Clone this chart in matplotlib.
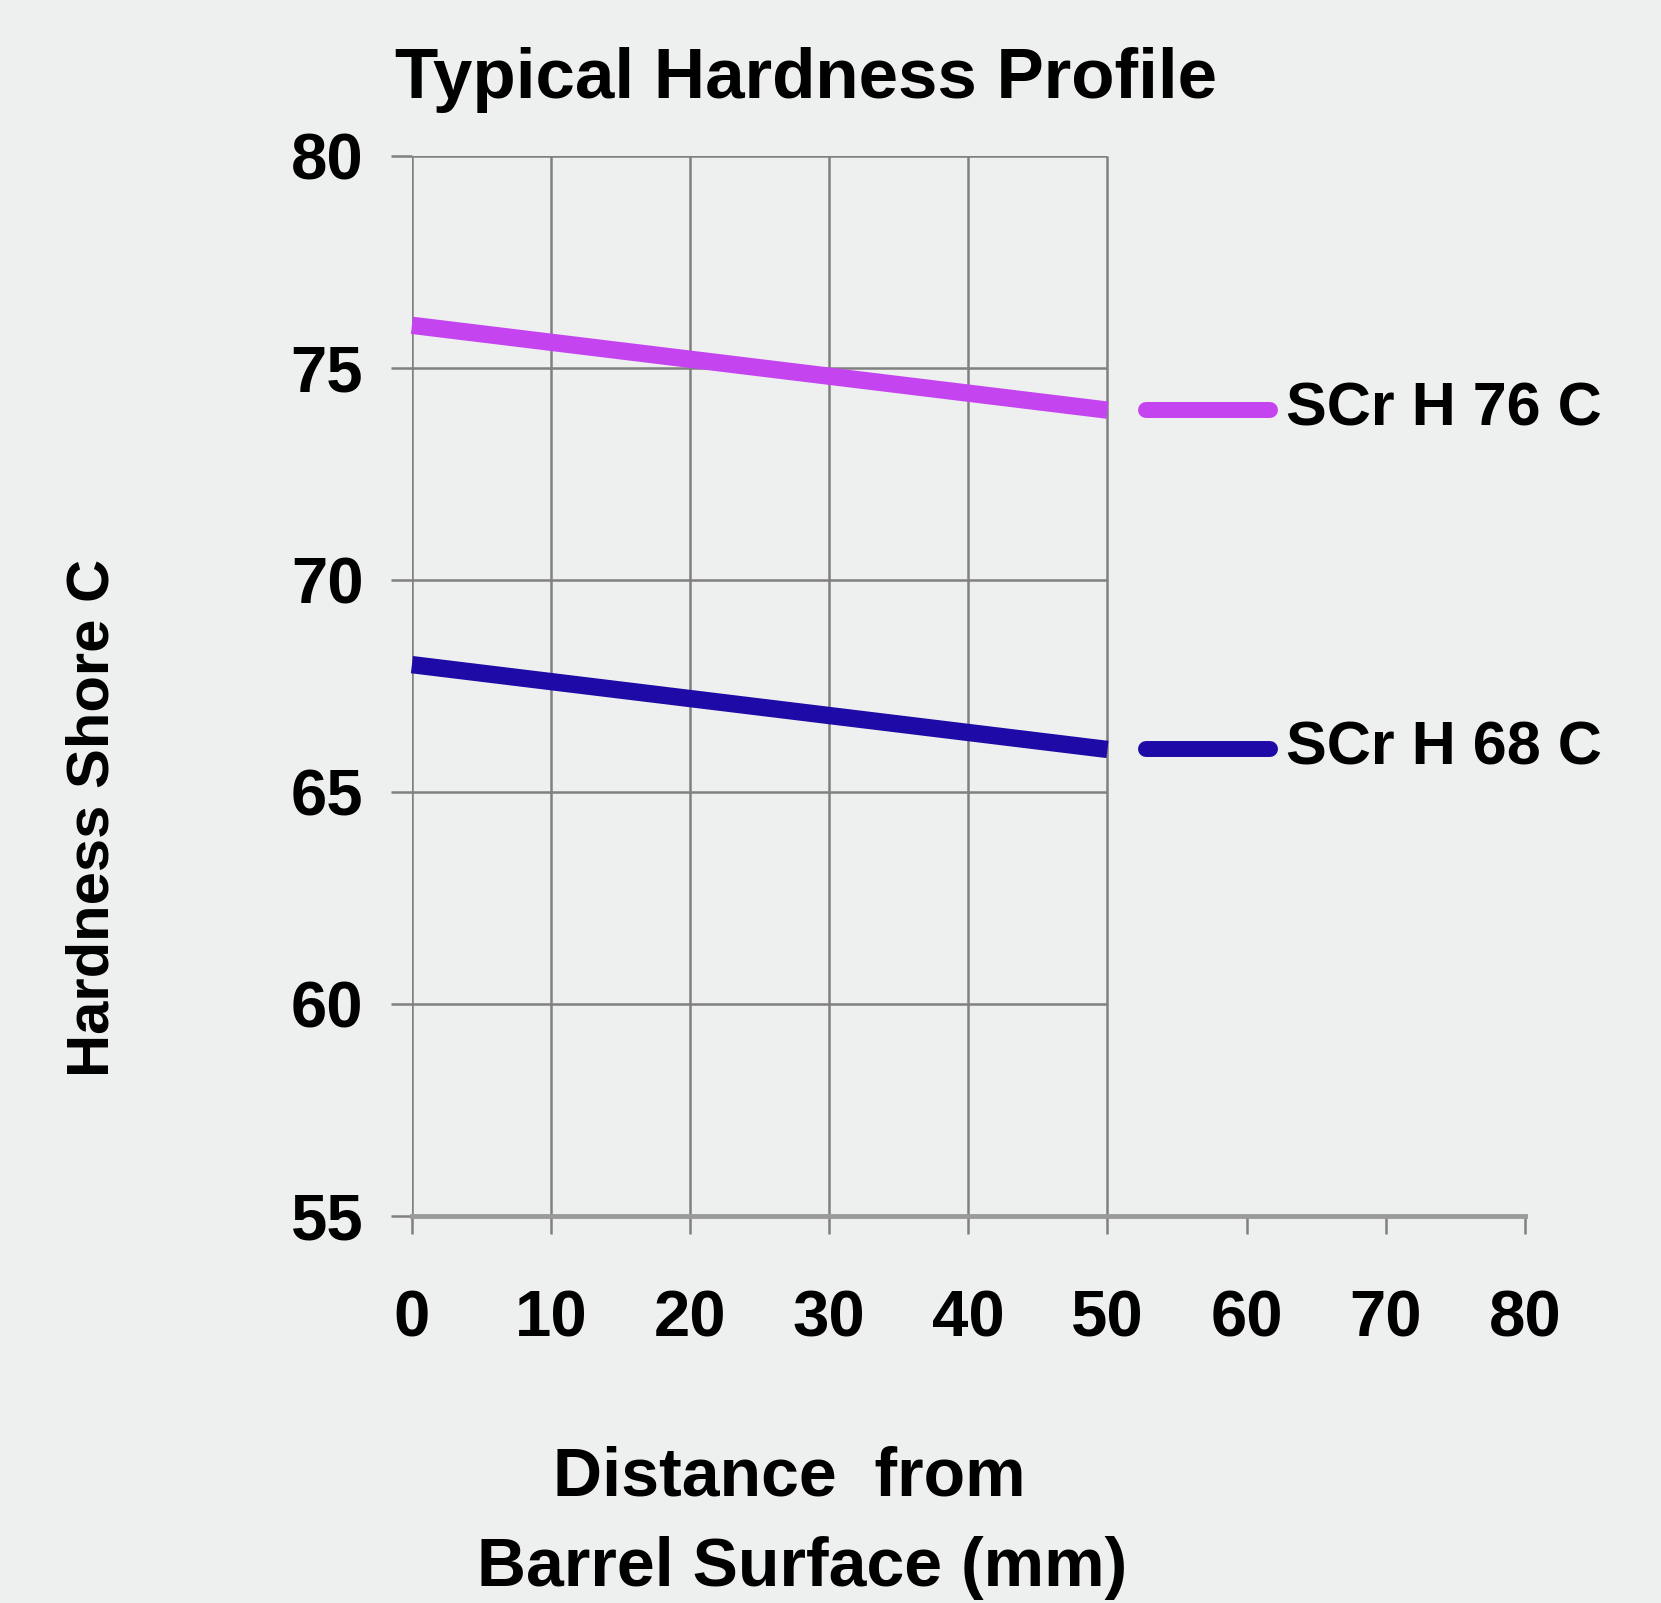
import matplotlib
matplotlib.use("Agg")
import matplotlib.pyplot as plt

# ---- data ----
distance = [0, 50]
scr_h76 = [76, 74]
scr_h68 = [68, 66]
series_names = ["SCr H 76 C", "SCr H 68 C"]
series_colors = ["#c444f0", "#1e0aa6"]
x_ticks = [0, 10, 20, 30, 40, 50, 60, 70, 80]
x_grid = [0, 10, 20, 30, 40, 50]
y_ticks = [55, 60, 65, 70, 75, 80]

FONT = ["Liberation Sans", "DejaVu Sans"]
BG = "#eef0ef"
GRID = "#808080"

fig = plt.figure(figsize=(16.61, 16.03), dpi=100, facecolor=BG)
ax = fig.add_axes([0.248, 0.2414, 0.670, 0.6615])
ax.set_facecolor("none")
ax.set_xlim(0, 80)
ax.set_ylim(55, 80)

for s in ["top", "right", "left"]:
    ax.spines[s].set_visible(False)
ax.spines["bottom"].set_color("#9a9a9a")
ax.spines["bottom"].set_linewidth(3.5)

# plot box + grid (only over 0..50)
ax.vlines(x_grid, 55, 80, color=GRID, lw=1.8, zorder=1)
ax.hlines(y_ticks[1:], 0, x_grid[-1], color=GRID, lw=1.8, zorder=1)

ax.set_xticks(x_ticks)
ax.set_yticks(y_ticks)
ax.set_xticklabels([str(v) for v in x_ticks])
ax.set_yticklabels([str(v) for v in y_ticks])
ax.tick_params(axis="x", direction="out", length=13, width=1.8, color=GRID, pad=40)
ax.tick_params(axis="y", direction="out", length=15, width=1.8, color=GRID, pad=20)
for lab in ax.get_xticklabels() + ax.get_yticklabels():
    lab.set_fontfamily(FONT)
    lab.set_fontweight("bold")
    lab.set_fontsize(47)

# series lines
for ys, name, col in zip([scr_h76, scr_h68], series_names, series_colors):
    ax.plot(distance, ys, color=col, lw=12.5, solid_capstyle="butt", zorder=3, clip_on=False)
    ax.plot([52.8, 61.7], [ys[-1], ys[-1]], color=col, lw=11.5, solid_capstyle="round",
            zorder=3, clip_on=False)
    ax.text(62.8, ys[-1], name, fontsize=44, fontweight="bold", family=FONT,
            va="center", ha="left", clip_on=False)

fig.text(0.485, 0.9386, "Typical Hardness Profile", fontsize=51, fontweight="bold",
         family=FONT, ha="center", va="baseline")
fig.text(0.056, 0.4897, "Hardness Shore C", fontsize=43, fontweight="bold",
         family=FONT, ha="center", va="center", rotation=90)
fig.text(0.475, 1 - 1496 / 1603, "Distance  from", fontsize=49, fontweight="bold",
         family=FONT, ha="center", va="baseline")
fig.text(0.483, 1 - 1586 / 1603, "Barrel Surface (mm)", fontsize=49, fontweight="bold",
         family=FONT, ha="center", va="baseline")

fig.savefig("out.png", dpi=100, facecolor=BG)
